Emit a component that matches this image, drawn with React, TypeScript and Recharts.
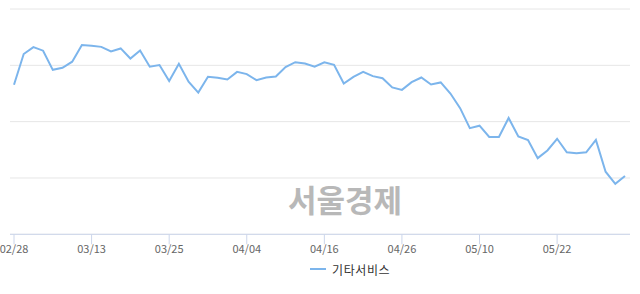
import React from 'react'
import { LineChart, Line, XAxis, YAxis, CartesianGrid, Legend } from 'recharts'

// trading days, 2019-02-28 .. 2019-05-31
const dates = [
  '02/28', '03/04', '03/05', '03/06', '03/07', '03/08', '03/11', '03/12',
  '03/13', '03/14', '03/15', '03/18', '03/19', '03/20', '03/21', '03/22',
  '03/25', '03/26', '03/27', '03/28', '03/29', '04/01', '04/02', '04/03',
  '04/04', '04/05', '04/08', '04/09', '04/10', '04/11', '04/12', '04/15',
  '04/16', '04/17', '04/18', '04/19', '04/22', '04/23', '04/24', '04/25',
  '04/26', '04/29', '04/30', '05/02', '05/03', '05/07', '05/08', '05/09',
  '05/10', '05/13', '05/14', '05/15', '05/16', '05/17', '05/20', '05/21',
  '05/22', '05/23', '05/24', '05/27', '05/28', '05/29', '05/30', '05/31',
]

const values = [
  66.4, 80.0, 83.1, 81.5, 73.0, 73.9, 76.6, 84.0,
  83.7, 83.2, 81.2, 82.5, 78.0, 81.6, 74.4, 75.1,
  68.0, 75.7, 67.7, 62.9, 69.9, 69.5, 68.7, 72.1,
  71.1, 68.4, 69.6, 70.0, 74.2, 76.4, 75.8, 74.4,
  76.3, 75.2, 66.9, 69.9, 72.1, 70.2, 69.3, 65.2,
  64.1, 67.5, 69.6, 66.5, 67.4, 62.5, 56.0, 47.1,
  48.2, 43.2, 43.2, 51.6, 43.4, 41.8, 33.8, 37.2,
  42.4, 36.4, 36.0, 36.4, 41.9, 27.8, 22.4, 25.9,
]

const yTicks = [0, 25, 50, 75, 100]
const seriesName = '기타서비스'
const watermark = '서울경제'

const chartData = dates.map((d, i) => ({ date: d, value: values[i] }))

const font = '"Noto Sans CJK KR", "Liberation Sans", sans-serif'

const LegendBox = () => (
  <div style={{ height: 20, display: 'flex', alignItems: 'center', paddingLeft: 310, fontFamily: font }}>
    <span style={{ display: 'inline-block', width: 16, height: 2, background: '#7cb5ec' }} />
    <span style={{ marginLeft: 6, fontSize: 12, color: '#333333', letterSpacing: 0.6 }}>{seriesName}</span>
  </div>
)

export default function App() {
  return (
    <div style={{ position: 'absolute', left: 0, top: 0, width: 640, height: 294, background: '#fff' }}>
      <LineChart width={640} height={294} data={chartData} margin={{ top: 9, right: 10, left: 10, bottom: 15 }}>
        <CartesianGrid vertical={false} stroke="#e6e6e6" />
        <XAxis
          dataKey="date"
          interval={7}
          height={24.7}
          padding={{ left: 4, right: 5 }}
          axisLine={{ stroke: '#ccd6eb' }}
          tickLine={{ stroke: '#ccd6eb' }}
          tickSize={10}
          tickMargin={1}
          tick={{ fill: '#666666', fontSize: 11, fontFamily: font }}
        />
        <YAxis hide domain={[0, 100]} ticks={yTicks} />
        <Legend verticalAlign="bottom" wrapperStyle={{ left: 0, width: 640 }} content={() => <LegendBox />} />
        <Line
          type="linear"
          dataKey="value"
          name={seriesName}
          stroke="#7cb5ec"
          strokeWidth={2}
          dot={false}
          activeDot={false}
          isAnimationActive={false}
        />
      </LineChart>
      <div
        style={{
          position: 'absolute',
          left: 288,
          top: 183,
          lineHeight: '31px',
          fontSize: 31,
          fontWeight: 700,
          color: '#b8b8b8',
          fontFamily: font,
          whiteSpace: 'nowrap',
          pointerEvents: 'none',
        }}
      >
        {watermark}
      </div>
    </div>
  )
}
